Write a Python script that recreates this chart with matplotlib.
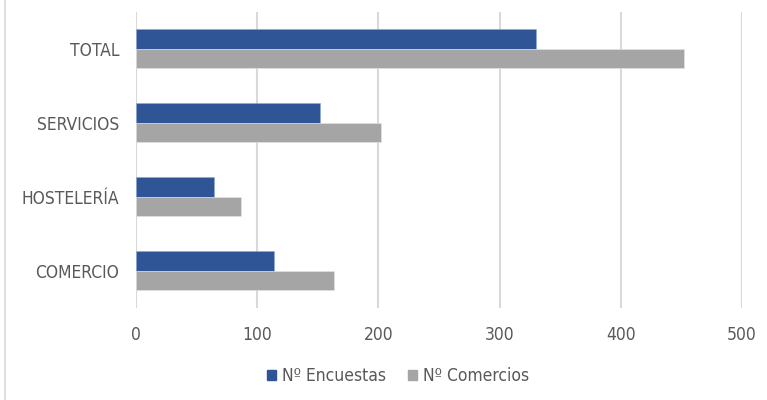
import matplotlib
matplotlib.use('Agg')
import matplotlib.pyplot as plt
import numpy as np
from matplotlib.patches import Patch
from matplotlib.lines import Line2D

categorias = ['COMERCIO', 'HOSTELERÍA', 'SERVICIOS', 'TOTAL']
encuestas = [114, 64, 152, 330]
comercios = [163, 87, 202, 452]
ticks_x = [0, 100, 200, 300, 400, 500]

azul = '#2F5597'
gris = '#A5A5A5'
texto = '#595959'
rejilla = '#D9D9D9'

plt.rcParams['font.family'] = ['DejaVu Sans']
plt.rcParams['font.stretch'] = 'condensed'

fig = plt.figure(figsize=(7.67, 4.0), dpi=100)
ax = fig.add_axes([136 / 767, 1 - 307.7 / 400, 606 / 767, 296.2 / 400])

y = np.arange(len(categorias))
alto = 0.26
ax.barh(y + alto / 2, encuestas, height=alto, color=azul, edgecolor='#8FAADC', linewidth=0.4, zorder=3, label='Nº Encuestas')
ax.barh(y - alto / 2, comercios, height=alto, color=gris, edgecolor='#E6E6E6', linewidth=0.4, zorder=3, label='Nº Comercios')

ax.set_xlim(0, 500)
ax.set_ylim(-0.5, 3.5)
ax.set_xticks(ticks_x)
ax.set_yticks(y)
ax.set_yticklabels(categorias)
ax.grid(axis='x', color=rejilla, linewidth=1.5, zorder=0)
for s in ax.spines.values():
    s.set_visible(False)
ax.tick_params(axis='y', length=0, pad=12, labelsize=12.5, labelcolor=texto)
ax.tick_params(axis='x', length=0, pad=13, labelsize=12.5, labelcolor=texto)

# borde del área del gráfico a la izquierda
fig.add_artist(Line2D([5 / 767, 5 / 767], [0, 1], color=rejilla, linewidth=1.2))

handles = [Patch(color=azul, label='Nº Encuestas'), Patch(color=gris, label='Nº Comercios')]
fig.legend(handles=handles, loc='center', bbox_to_anchor=(398 / 767, 1 - 376 / 400), ncol=2,
           frameon=False, fontsize=12.5, labelcolor=texto, handlelength=0.5, handleheight=0.5,
           handletextpad=0.35, columnspacing=1.3)

fig.savefig('out.png', dpi=100)
